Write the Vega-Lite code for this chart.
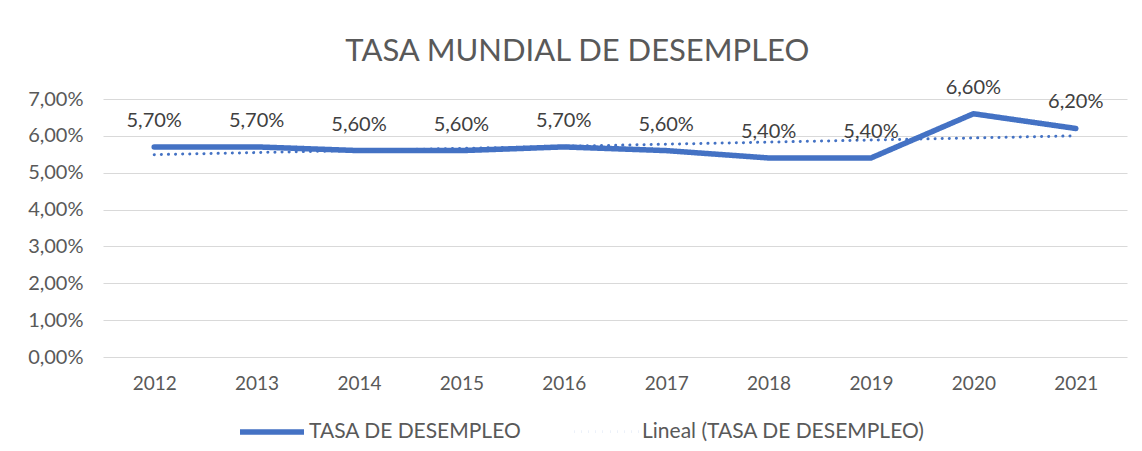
{
  "$schema": "https://vega.github.io/schema/vega-lite/v6.json",
  "width": 1024,
  "height": 258,
  "padding": {"left": 27, "top": 35, "right": 12, "bottom": 2},
  "background": "white",
  "title": {"text": "TASA MUNDIAL DE DESEMPLEO", "font": "Lato", "fontSize": 31, "fontWeight": "normal", "color": "#595959", "anchor": "middle", "frame": "bounds", "offset": 10},
  "data": {"values": [
    {"year": "2012", "serie": "TASA DE DESEMPLEO", "v": 5.7},
    {"year": "2013", "serie": "TASA DE DESEMPLEO", "v": 5.7},
    {"year": "2014", "serie": "TASA DE DESEMPLEO", "v": 5.6},
    {"year": "2015", "serie": "TASA DE DESEMPLEO", "v": 5.6},
    {"year": "2016", "serie": "TASA DE DESEMPLEO", "v": 5.7},
    {"year": "2017", "serie": "TASA DE DESEMPLEO", "v": 5.6},
    {"year": "2018", "serie": "TASA DE DESEMPLEO", "v": 5.4},
    {"year": "2019", "serie": "TASA DE DESEMPLEO", "v": 5.4},
    {"year": "2020", "serie": "TASA DE DESEMPLEO", "v": 6.6},
    {"year": "2021", "serie": "TASA DE DESEMPLEO", "v": 6.2},
    {"year": "2012", "serie": "Lineal (TASA DE DESEMPLEO)", "v": 5.49},
    {"year": "2021", "serie": "Lineal (TASA DE DESEMPLEO)", "v": 6.0}
  ]},
  "encoding": {
    "x": {"field": "year", "type": "ordinal", "scale": {"type": "point", "padding": 0.5},
      "axis": {"title": null, "labelAngle": 0, "domain": false, "ticks": false, "labelPadding": 17, "labelFont": "Lato", "labelFontSize": 19, "labelColor": "#595959", "grid": false}},
    "y": {"field": "v", "type": "quantitative", "scale": {"domain": [0, 7]},
      "axis": {"title": null, "values": [0,1,2,3,4,5,6,7], "domain": false, "ticks": false, "labelPadding": 20, "labelFont": "Lato", "labelFontSize": 20, "labelColor": "#595959", "gridColor": "#d9d9d9", "gridWidth": 1.2,
        "labelExpr": "replace(format(datum.value, '.2f'), '.', ',') + '%'"}}
  },
  "layer": [
    {
      "mark": {"type": "line", "strokeCap": "round", "strokeJoin": "round"},
      "encoding": {
        "color": {"field": "serie", "type": "nominal", "sort": ["TASA DE DESEMPLEO", "Lineal (TASA DE DESEMPLEO)"],
          "scale": {"domain": ["TASA DE DESEMPLEO", "Lineal (TASA DE DESEMPLEO)"], "range": ["#4472C4", "#4472C4"]},
          "legend": {"title": null, "orient": "none", "legendX": 156, "legendY": 320, "direction": "horizontal", "symbolType": "M-3.2,0H3.2", "symbolSize": 400, "labelFont": "Lato", "labelFontSize": 21, "labelColor": "#595959", "labelLimit": 0, "columnPadding": 46, "labelOffset": 24}},
        "strokeDash": {"field": "serie", "type": "nominal",
          "scale": {"domain": ["TASA DE DESEMPLEO", "Lineal (TASA DE DESEMPLEO)"], "range": [[1, 0], [0.1, 7]]}, "legend": null},
        "strokeWidth": {"field": "serie", "type": "nominal",
          "scale": {"domain": ["TASA DE DESEMPLEO", "Lineal (TASA DE DESEMPLEO)"], "range": [5.5, 3]}, "legend": null}
      }
    },
    {
      "transform": [{"filter": "datum.serie == 'TASA DE DESEMPLEO'"}],
      "mark": {"type": "text", "dy": -26, "font": "Lato", "fontSize": 20, "color": "#404040"},
      "encoding": {"text": {"field": "label", "type": "nominal"}}
    }
  ],
  "transform": [{"calculate": "replace(format(datum.v, '.2f'), '.', ',') + '%'", "as": "label"}],
  "config": {"view": {"stroke": null}}
}
